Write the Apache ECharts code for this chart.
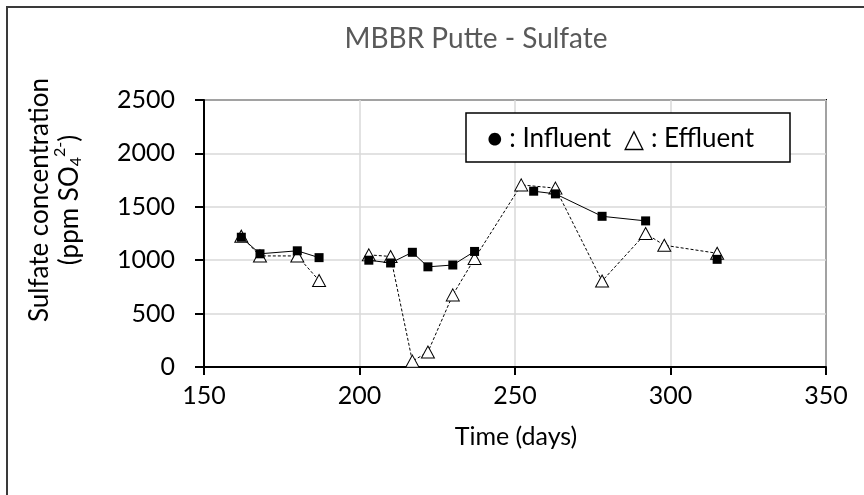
<!DOCTYPE html>
<html>
<head>
<meta charset="utf-8">
<script src="https://cdn.jsdelivr.net/npm/echarts@6/dist/echarts.min.js"></script>
<style>
  html, body { margin: 0; padding: 0; background: #fff; }
  #chart { width: 864px; height: 495px; }
</style>
</head>
<body>
<div id="chart"></div>
<script>
// Sulfate measurements of the MBBR at Putte (ppm SO4 2-)
const influentDays   = [162, 168, 180, 187, 203, 210, 217, 222, 230, 237, 256, 263, 278, 292, 315];
const influentValues = [1215, 1060, 1088, 1024, 1000, 974, 1074, 938, 955, 1082, 1646, 1621, 1411, 1368, 1008];
// index at which a new, unconnected run of points starts
const influentBreaks = [4, 10, 14];

const effluentDays   = [162, 168, 180, 187, 203, 210, 217, 222, 230, 237, 252, 263, 278, 292, 298, 315];
const effluentValues = [1225, 1040, 1040, 810, 1050, 1035, 55, 140, 675, 1015, 1705, 1675, 805, 1250, 1140, 1065];
const effluentBreaks = [4];

const xTicks = { min: 150, max: 350, step: 50 };
const yTicks = { min: 0, max: 2500, step: 500 };

const FONT = 'Lato, "Open Sans", sans-serif';

// Build [x, y] pairs; a '-' point between runs keeps the line from joining them
function buildSeriesData(days, values, breaks) {
  const out = [];
  for (let i = 0; i < days.length; i++) {
    if (breaks.indexOf(i) !== -1) out.push([(days[i - 1] + days[i]) / 2, '-']);
    out.push([days[i], values[i]]);
  }
  return out;
}

// width of a string, used to lay out the sub/superscripts of the y title
const measureCtx = document.createElement('canvas').getContext('2d');
function textWidth(str, size) {
  measureCtx.font = size + 'px ' + FONT;
  return measureCtx.measureText(str).width;
}

const yTitleSize = 26, yScriptSize = 16;
const yPart1 = '(ppm SO', ySub = '4', ySup = '2-', yPart2 = ')';
const w1 = textWidth(yPart1, yTitleSize);
const wSub = textWidth(ySub, yScriptSize);
const wSup = textWidth(ySup, yScriptSize);
const w2 = textWidth(yPart2, yTitleSize);
const line2Width = w1 + wSub + wSup + w2;
const l2x = -line2Width / 2;

const chart = echarts.init(document.getElementById('chart'), null, { renderer: 'canvas' });

chart.setOption({
  backgroundColor: '#ffffff',
  animation: false,
  grid: {
    left: 204, right: 38, top: 100, bottom: 128,
    show: true, borderColor: '#000000', borderWidth: 2, backgroundColor: 'transparent'
  },
  xAxis: {
    type: 'value',
    min: xTicks.min, max: xTicks.max, interval: xTicks.step,
    axisLine: { show: true, onZero: false, lineStyle: { color: '#000', width: 2 } },
    axisTick: { show: true, inside: false, length: 8, lineStyle: { color: '#000', width: 2 } },
    splitLine: { show: true, lineStyle: { color: '#d9d9d9', width: 1.5 } },
    axisLabel: { color: '#000', fontSize: 25, fontFamily: FONT, margin: 16, formatter: v => String(v) }
  },
  yAxis: {
    type: 'value',
    min: yTicks.min, max: yTicks.max, interval: yTicks.step,
    axisLine: { show: true, lineStyle: { color: '#000', width: 2 } },
    axisTick: { show: true, inside: false, length: 9, lineStyle: { color: '#000', width: 2 } },
    splitLine: { show: true, lineStyle: { color: '#d9d9d9', width: 1.5 } },
    axisLabel: { color: '#000', fontSize: 25, fontFamily: FONT, margin: 29, formatter: v => String(v) }
  },
  series: [
    {
      name: 'Effluent',
      type: 'line',
      data: buildSeriesData(effluentDays, effluentValues, effluentBreaks),
      connectNulls: false,
      symbol: 'triangle',
      symbolSize: [13, 12],
      itemStyle: { color: '#ffffff', borderColor: '#000000', borderWidth: 1 },
      lineStyle: { color: '#000000', width: 1, type: [3, 2] },
      z: 2
    },
    {
      name: 'Influent',
      type: 'line',
      data: buildSeriesData(influentDays, influentValues, influentBreaks),
      connectNulls: false,
      symbol: 'rect',
      symbolSize: 9,
      itemStyle: { color: '#000000', borderColor: '#000000', borderWidth: 0 },
      lineStyle: { color: '#000000', width: 1 },
      z: 3
    }
  ],
  graphic: [
    // chart area frame (left and top edges)
    {
      type: 'polyline', silent: true,
      shape: { points: [[7, 495], [7, 7], [864, 7]] },
      style: { stroke: '#3a3a3a', lineWidth: 2, fill: null }
    },
    // title
    {
      type: 'text', x: 476, y: 39,
      style: { text: 'MBBR Putte - Sulfate', font: '28px ' + FONT, fill: '#595959', align: 'center', verticalAlign: 'middle' }
    },
    // x axis title
    {
      type: 'text', x: 516, y: 437,
      style: { text: 'Time (days)', font: '25px ' + FONT, fill: '#000', align: 'center', verticalAlign: 'middle' }
    },
    // y axis title, two lines, rotated
    {
      type: 'group', x: 55, y: 200, rotation: Math.PI / 2,
      children: [
        { type: 'text', x: 0, y: -15,
          style: { text: 'Sulfate concentration', font: yTitleSize + 'px ' + FONT, fill: '#000', align: 'center', verticalAlign: 'middle' } },
        { type: 'text', x: l2x, y: 15,
          style: { text: yPart1, font: yTitleSize + 'px ' + FONT, fill: '#000', align: 'left', verticalAlign: 'middle' } },
        { type: 'text', x: l2x + w1, y: 21,
          style: { text: ySub, font: yScriptSize + 'px ' + FONT, fill: '#000', align: 'left', verticalAlign: 'middle' } },
        { type: 'text', x: l2x + w1 + wSub, y: 5,
          style: { text: ySup, font: yScriptSize + 'px ' + FONT, fill: '#000', align: 'left', verticalAlign: 'middle' } },
        { type: 'text', x: l2x + w1 + wSub + wSup, y: 15,
          style: { text: yPart2, font: yTitleSize + 'px ' + FONT, fill: '#000', align: 'left', verticalAlign: 'middle' } }
      ]
    },
    // legend box
    {
      type: 'rect', z: 10,
      shape: { x: 466, y: 113, width: 324, height: 49 },
      style: { fill: '#ffffff', stroke: '#000000', lineWidth: 1.5 }
    },
    {
      type: 'text', z: 11, x: 487, y: 139,
      style: { text: '\u25CF : Influent  \u25B3 : Effluent', font: '26px ' + FONT, fill: '#000', align: 'left', verticalAlign: 'middle' }
    }
  ]
});
</script>
</body>
</html>
